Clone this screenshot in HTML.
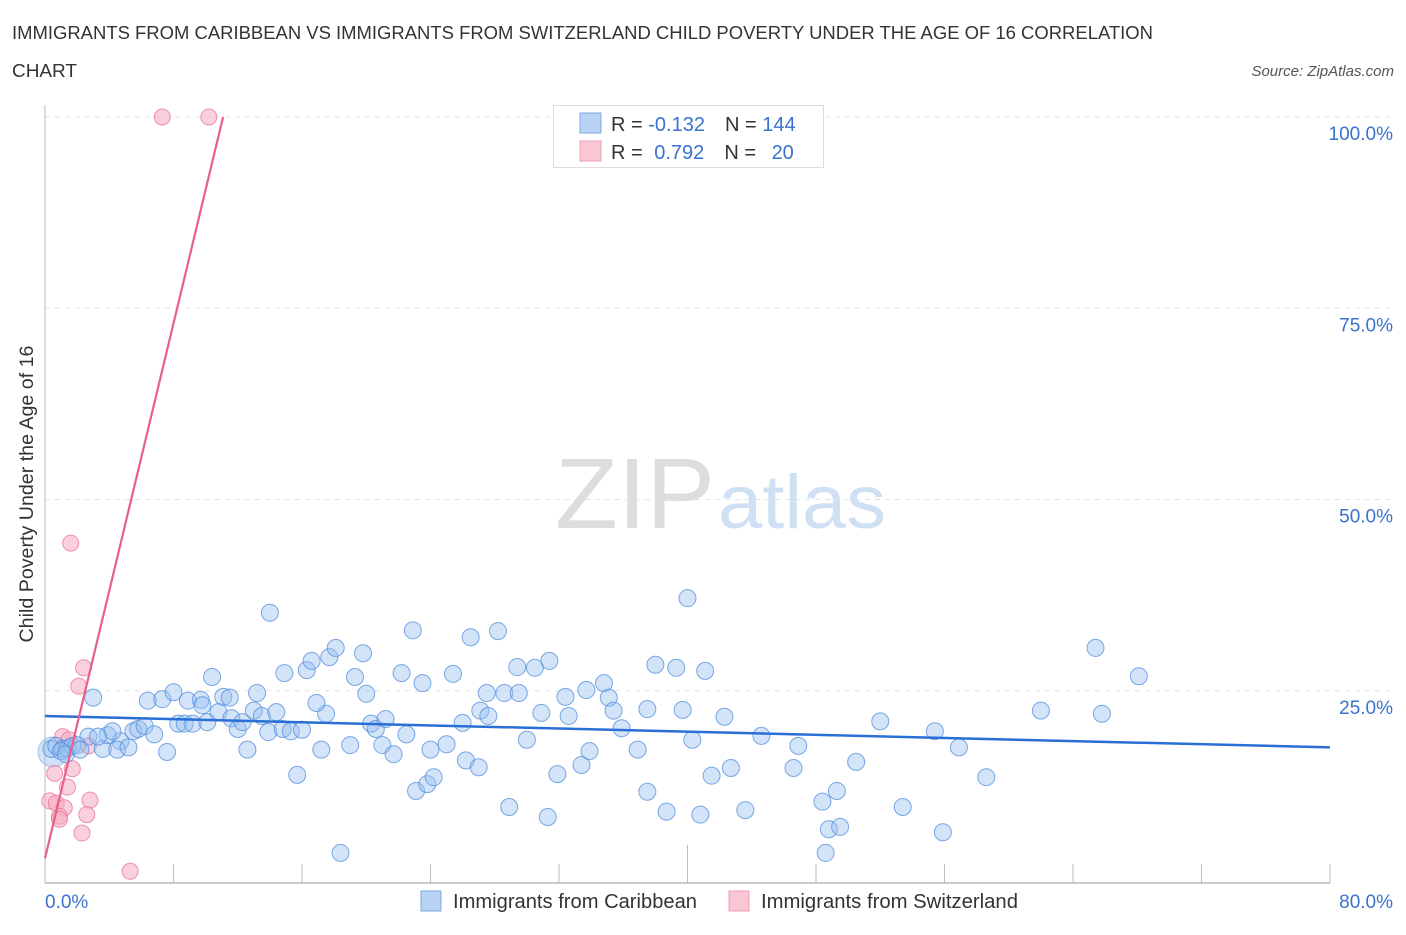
<!DOCTYPE html>
<html><head><meta charset="utf-8"><style>
body{margin:0;background:#fff;font-family:"Liberation Sans",sans-serif;}
svg text{font-family:"Liberation Sans",sans-serif;}
</style></head><body>
<svg id="chart" width="1406" height="930" viewBox="0 0 1406 930" xmlns="http://www.w3.org/2000/svg">
<text x="12" y="39" font-size="18" fill="#333" textLength="1141" lengthAdjust="spacingAndGlyphs">IMMIGRANTS FROM CARIBBEAN VS IMMIGRANTS FROM SWITZERLAND CHILD POVERTY UNDER THE AGE OF 16 CORRELATION</text>
<text x="12" y="77" font-size="18" fill="#333" textLength="65" lengthAdjust="spacingAndGlyphs">CHART</text>
<text x="1394" y="76" font-size="15" fill="#555" text-anchor="end" font-style="italic">Source: ZipAtlas.com</text>
<g>
<text x="555" y="528" font-size="100" fill="#ddd" font-family="Liberation Serif" textLength="160" lengthAdjust="spacingAndGlyphs">ZIP</text>
<text x="718" y="528" font-size="76" fill="#cfe0f5" textLength="168" lengthAdjust="spacingAndGlyphs">atlas</text>
</g>
<g id="grid"></g>
<g id="axes"></g>
<g id="marks"></g>
<g id="trends"></g>
<text transform="translate(33,494) rotate(-90)" font-size="19" fill="#333" text-anchor="middle" textLength="297" lengthAdjust="spacingAndGlyphs">Child Poverty Under the Age of 16</text>
<g>
<rect x="553.5" y="105.5" width="270" height="62" fill="#fff" stroke="#ddd"/>
<rect x="580" y="113" width="21" height="20" fill="#b9d3f5" stroke="#7fa9e6"/>
<text x="611" y="131" font-size="20" fill="#333">R = <tspan fill="#3a72d0">-0.132</tspan><tspan dx="20">N = </tspan><tspan fill="#3a72d0">144</tspan></text>
<rect x="580" y="141" width="21" height="20" fill="#f9c6d4" stroke="#ee9fb6"/>
<text x="611" y="159" font-size="20" fill="#333">R = <tspan fill="#3a72d0" dx="6">0.792</tspan><tspan dx="20">N = </tspan><tspan fill="#3a72d0" dx="10">20</tspan></text>
</g>
<g>
<rect x="421" y="891" width="20" height="20" fill="#b9d3f5" stroke="#7fa9e6"/>
<text x="453" y="908" font-size="20" fill="#333" textLength="244" lengthAdjust="spacingAndGlyphs">Immigrants from Caribbean</text>
<rect x="729" y="891" width="20" height="20" fill="#f9c6d4" stroke="#ee9fb6"/>
<text x="761" y="908" font-size="20" fill="#333" textLength="257" lengthAdjust="spacingAndGlyphs">Immigrants from Switzerland</text>
</g>
</svg>
<script>
const blueX=[14.0,10.4,3.0,6.4,7.3,8.0,8.9,9.7,9.8,11.1,11.5,13.2,12.6,7.6,4.7,3.6,4.5,5.2,2.7,3.9,4.2,5.5,5.8,6.2,6.8,8.3,8.7,9.2,10.1,10.8,11.6,12.0,12.3,13.0,13.5,13.9,14.4,14.8,15.3,16.0,15.7,14.9,16.3,16.6,17.7,18.1,17.5,16.9,17.2,19.0,19.3,19.8,20.0,20.3,20.6,21.2,21.0,21.7,22.5,22.2,22.9,23.5,23.1,23.8,24.2,24.0,25.0,25.4,26.0,26.2,27.0,26.5,28.2,27.5,27.1,27.6,28.6,29.4,29.5,30.0,30.5,30.9,31.4,32.4,32.6,31.9,33.4,33.9,33.7,34.8,35.1,35.4,35.9,36.9,37.5,37.5,38.0,38.7,39.3,40.0,39.7,40.3,40.8,41.1,41.5,42.3,42.7,43.6,44.6,46.9,46.6,48.4,48.8,49.3,49.5,50.5,52.0,53.4,55.4,55.9,56.9,58.6,62.0,65.4,65.8,68.1,48.6,18.4,31.3,28.9,0.4,0.7,1.1,1.4,1.7,2.0,1.0,1.3,2.2,3.3];
const blueY=[35.2,26.8,24.1,23.7,23.9,24.8,23.7,23.8,23.1,24.2,24.1,24.7,17.3,17.0,18.4,17.4,17.3,17.6,19.0,19.2,19.7,19.7,20.0,20.4,19.3,20.7,20.7,20.7,20.9,22.2,21.4,20.0,20.9,22.4,21.7,19.6,22.2,20.0,19.7,19.9,14.0,27.3,27.7,28.9,29.4,30.6,22.0,23.4,17.3,17.9,26.8,29.9,24.6,20.7,20.0,21.3,17.9,16.7,19.3,27.3,32.9,26.0,11.9,12.8,13.7,17.3,18.0,27.2,20.8,15.9,15.0,32.0,32.8,24.7,22.4,21.7,24.7,28.1,24.7,18.6,28.0,22.1,28.9,24.2,21.7,14.1,15.3,17.1,25.1,26.0,24.1,22.4,20.1,17.3,22.6,11.8,28.4,9.2,28.0,37.1,22.5,18.6,8.8,27.6,13.9,21.6,14.9,9.4,19.1,17.8,14.9,10.5,6.9,11.9,7.2,15.7,21.0,9.8,19.7,6.5,17.6,13.7,22.4,30.6,22.0,26.9,3.8,3.8,8.5,9.8,17.4,17.8,17.4,17.5,17.8,17.9,17.1,16.7,17.3,19.0];
const pinkX=[7.3,10.2,1.6,2.4,2.1,1.1,1.5,2.7,1.7,0.6,1.4,0.3,0.7,2.8,1.2,2.6,0.9,0.9,2.3,5.3];
const pinkY=[100,100,44.3,28.0,25.6,19.0,18.6,17.8,14.8,14.2,12.4,10.6,10.3,10.7,9.7,8.8,8.6,8.2,6.4,1.4];
const blueTrend=[21.7,17.6];   // y at x=0 and x=80
const pinkTrend=[3.1,8.74];    // intercept, slope
const yTicks=[25,50,75,100];
const yTickLabels=["25.0%","50.0%","75.0%","100.0%"];
const xTicks=[0,8,16,24,32,40,48,56,64,72,80];
const NS="http://www.w3.org/2000/svg";
const X0=45,X1=1330,Y0=882,Y100=117;
const sx=v=>X0+(v/80)*(X1-X0);
const sy=v=>Y0-(v/100)*(Y0-Y100);
function mk(tag,attrs,parent){const e=document.createElementNS(NS,tag);for(const k in attrs)e.setAttribute(k,attrs[k]);parent.appendChild(e);return e;}
const grid=document.getElementById('grid'),axes=document.getElementById('axes'),marks=document.getElementById('marks'),trends=document.getElementById('trends');
yTicks.forEach((t,i)=>{
 const l=mk('line',{x1:X0,x2:1392,y1:sy(t),y2:sy(t),stroke:'#e2e2e2','stroke-dasharray':'5,5'},grid);
 
 
 const tx=mk('text',{x:1393,y:sy(t)+23,'font-size':19,fill:'#3a72d0','text-anchor':'end'},axes);
 tx.textContent=yTickLabels[i];
 
 
});
const ya=mk('line',{x1:X0,x2:X0,y1:105,y2:Y0+1,stroke:'#bbb'},axes);


const xa=mk('line',{x1:X0,x2:X1,y1:Y0+1,y2:Y0+1,stroke:'#bbb','stroke-width':1.5},axes);


xTicks.forEach(t=>{
 const tk=mk('line',{x1:sx(t),x2:sx(t),y1:(t===40?845:864),y2:Y0+1,stroke:'#bbb'},axes);
 
 
});
const xl0=mk('text',{x:45,y:908,'font-size':19,fill:'#3a72d0'},axes);xl0.textContent='0.0%';


const xl1=mk('text',{x:1393,y:908,'font-size':19,fill:'#3a72d0','text-anchor':'end'},axes);xl1.textContent='80.0%';


const big1=mk('circle',{cx:sx(0.5),cy:sy(17),r:15,fill:'rgba(160,195,240,0.45)',stroke:'rgba(110,160,225,0.6)'},marks);


pinkX.forEach((v,i)=>{
 const c=mk('circle',{cx:sx(v),cy:sy(pinkY[i]),r:8,fill:'rgba(246,170,192,0.55)',stroke:'rgba(232,120,155,0.8)'},marks);
 
 
});
blueX.forEach((v,i)=>{
 const c=mk('circle',{cx:sx(v),cy:sy(blueY[i]),r:8.5,fill:'rgba(150,190,240,0.42)',stroke:'rgba(80,140,220,0.75)'},marks);
 
 
});
const bt=mk('line',{x1:sx(0),y1:sy(blueTrend[0]),x2:sx(80),y2:sy(blueTrend[1]),stroke:'#2a6fd6','stroke-width':2.5},trends);


const pEnd=(100-pinkTrend[0])/pinkTrend[1];
const pt=mk('line',{x1:sx(0),y1:sy(pinkTrend[0]),x2:sx(pEnd),y2:sy(100),stroke:'#e8608a','stroke-width':2.2},trends);


</script>
</body></html>
